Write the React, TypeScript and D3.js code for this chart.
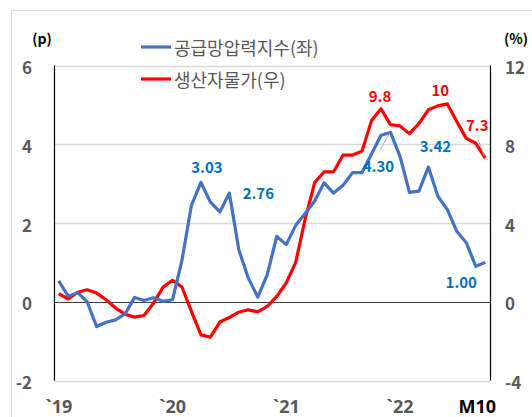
import React from "react";
import * as d3 from "d3";

// Monthly categories: Jan 2019 .. Oct 2022
const months: Date[] = d3.timeMonth.range(new Date(2019, 0, 1), new Date(2022, 10, 1));

// 공급망압력지수 (left axis, p)
const supplyPressure = [
  0.53, 0.14, 0.23, 0.0, -0.63, -0.52, -0.46, -0.31, 0.11, 0.03, 0.1, 0.01,
  0.05, 1.05, 2.45, 3.03, 2.53, 2.28, 2.76, 1.32, 0.6, 0.12, 0.69, 1.66,
  1.45, 1.94, 2.24, 2.56, 3.02, 2.76, 2.96, 3.28, 3.28, 3.75, 4.23, 4.3,
  3.7, 2.78, 2.81, 3.42, 2.68, 2.34, 1.79, 1.5, 0.9, 1.0,
];

// 생산자물가 (right axis, %)
const ppi = [
  0.41, 0.14, 0.48, 0.61, 0.44, 0.1, -0.32, -0.63, -0.78, -0.7, -0.07, 0.73,
  1.09, 0.75, -0.49, -1.68, -1.8, -1.03, -0.8, -0.53, -0.41, -0.51, -0.24, 0.27,
  0.95, 2.0, 4.2, 6.05, 6.6, 6.6, 7.45, 7.45, 7.65, 9.2, 9.8, 9.0,
  8.93, 8.54, 9.05, 9.75, 9.95, 10.05, 9.15, 8.3, 8.05, 7.3,
];

const leftTicks = [6, 4, 2, 0, -2];
const rightTicks = [12, 8, 4, 0, -4];
const xTickIndex = [0, 12, 24, 36, 45];
const xTickLabels = ["`19", "`20", "`21", "`22", "M10"];

const legendNames = ["공급망압력지수(좌)", "생산자물가(우)"];

const blueLabelIndex = [15, 18, 35, 39, 45];
const blueLabelText = ["3.03", "2.76", "4.30", "3.42", "1.00"];
const redLabelIndex = [34, 41, 45];
const redLabelText = ["9.8", "10", "7.3"];

// label offsets (style)
const blueOffsets = [
  { dx: 6, dy: -9 },
  { dx: 29, dy: 6 },
  { dx: -12, dy: 40, leader: true },
  { dx: 7, dy: -15 },
  { dx: -24, dy: 26 },
];
const redOffsets = [
  { dx: -1, dy: -7 },
  { dx: -7, dy: -8 },
  { dx: -8, dy: -27, leader: true },
];

const FONT = '"Noto Sans CJK KR", "Noto Sans", sans-serif';
const LATIN = '"Noto Sans", "Open Sans", sans-serif';
const BLUE = "#4472C4";
const BLUE_LABEL = "#0070C0";
const RED = "#FF0000";
const GRAY = "#595959";

export default function App() {
  const W = 532;
  const H = 417;
  const left = 54;
  const right = 490;
  const top = 65.5;
  const bottom = 380.5;

  const x = d3
    .scalePoint<number>()
    .domain(d3.range(months.length))
    .range([left, right])
    .padding(0.5);
  const yL = d3.scaleLinear().domain([-2, 6]).range([bottom, top]);
  const yR = d3.scaleLinear().domain([-4, 12]).range([bottom, top]);

  const lineL = d3
    .line<number>()
    .x((_, i) => x(i) as number)
    .y((d) => yL(d))
    .curve(d3.curveLinear);
  const lineR = d3
    .line<number>()
    .x((_, i) => x(i) as number)
    .y((d) => yR(d))
    .curve(d3.curveLinear);

  return (
    <svg
      width={W}
      height={H}
      style={{ position: "absolute", left: 0, top: 0, background: "#fff" }}
      fontFamily={FONT}
    >
      <rect x={11.5} y={10.5} width={540} height={420} fill="#fff" stroke="#D9D9D9" strokeWidth={1} />

      {/* gridlines */}
      {leftTicks.map((t) => (
        <line
          key={"g" + t}
          x1={left}
          x2={right}
          y1={Math.round(yL(t)) + 0.5}
          y2={Math.round(yL(t)) + 0.5}
          stroke={t === 0 ? "#404040" : "#D9D9D9"}
          strokeWidth={t === 0 ? 1.2 : 1.3}
        />
      ))}

      {/* axes lines */}
      <line x1={left + 0.5} x2={left + 0.5} y1={top} y2={bottom} stroke="#000" strokeWidth={1.2} />
      <line x1={right + 0.5} x2={right + 0.5} y1={top} y2={bottom} stroke="#000" strokeWidth={1.2} />

      {/* left ticks */}
      {leftTicks.map((t) => (
        <text key={"l" + t} x={32} y={yL(t) + 8.5} textAnchor="end" fontSize={17} fontWeight="bold" fill={GRAY}>
          {t < 0 ? "-" + Math.abs(t) : t}
        </text>
      ))}
      {/* right ticks */}
      {rightTicks.map((t) => (
        <text key={"r" + t} x={505} y={yR(t) + 8.5} textAnchor="start" fontSize={17} fontWeight="bold" fill={GRAY}>
          {t < 0 ? "-" + Math.abs(t) : t}
        </text>
      ))}

      {/* units */}
      <text x={42} y={44} textAnchor="middle" fontSize={14} fontWeight="bold" fill="#000">(p)</text>
      <text x={516} y={44} textAnchor="middle" fontSize={14} fontWeight="bold" fill="#000">(%)</text>

      {/* x labels */}
      {xTickIndex.map((i, k) => (
        <text
          key={"x" + i}
          x={(x(i) as number) + (k === xTickLabels.length - 1 ? -8 : 0)}
          y={413}
          textAnchor="middle"
          fontSize={18}
          fontWeight="bold"
          fontFamily={LATIN}
          fill={k === xTickLabels.length - 1 ? "#000" : GRAY}
        >
          {xTickLabels[k]}
        </text>
      ))}

      {/* series */}
      <path d={lineR(ppi) || ""} fill="none" stroke={RED} strokeWidth={3.2} strokeLinejoin="round" />
      <path d={lineL(supplyPressure) || ""} fill="none" stroke={BLUE} strokeWidth={3.2} strokeLinejoin="round" />

      {/* blue labels */}
      {blueLabelIndex.map((i, k) => {
        const px = x(i) as number;
        const py = yL(supplyPressure[i]);
        const o = blueOffsets[k];
        return (
          <g key={"bl" + i}>
            {o.leader && (
              <line x1={px - 1} y1={py + 1} x2={px - 10} y2={py + 17} stroke="#A6A6A6" strokeWidth={1} />
            )}
            <text x={px + o.dx} y={py + o.dy} textAnchor="middle" fontSize={15} fontWeight="bold" fill={BLUE_LABEL}>
              {blueLabelText[k]}
            </text>
          </g>
        );
      })}

      {/* red labels */}
      {redLabelIndex.map((i, k) => {
        const px = x(i) as number;
        const py = yR(ppi[i]);
        const o = redOffsets[k];
        return (
          <g key={"rl" + i}>
            {o.leader && (
              <line x1={px - 1} y1={py - 2} x2={px - 7} y2={py - 18} stroke="#A6A6A6" strokeWidth={1} />
            )}
            <text x={px + o.dx} y={py + o.dy} textAnchor="middle" fontSize={15} fontWeight="bold" fill={RED}>
              {redLabelText[k]}
            </text>
          </g>
        );
      })}

      {/* legend */}
      {legendNames.map((name, k) => (
        <g key={"lg" + k}>
          <line x1={141} x2={171} y1={47 + k * 32} y2={47 + k * 32} stroke={k === 0 ? BLUE : RED} strokeWidth={3.2} />
          <text x={174} y={47 + k * 32} dominantBaseline="central" fontSize={18} fill={GRAY}>
            {name}
          </text>
        </g>
      ))}
    </svg>
  );
}
